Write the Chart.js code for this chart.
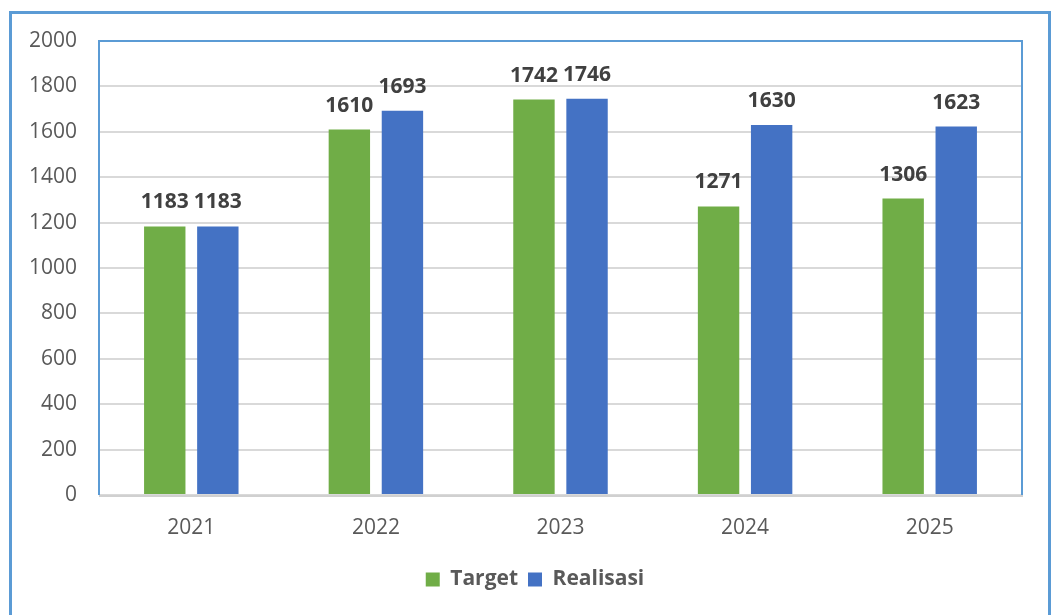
<!DOCTYPE html>
<html>
<head>
<meta charset="utf-8">
<script src="https://cdn.jsdelivr.net/npm/chart.js@4/dist/chart.umd.min.js"></script>
<style>
  body { margin: 0; background: #fff; }
  #frame { position: absolute; left: 9px; top: 11px; width: 1036px; height: 640px; border: 3px solid #5B9BD5; }
  #wrap { position: absolute; left: 0; top: 0; width: 1053px; height: 615px; }
</style>
</head>
<body>
<div id="frame"></div>
<div id="wrap"><canvas id="myChart" width="1053" height="615"></canvas></div>
<script>
'use strict'
const years = ['2021', '2022', '2023', '2024', '2025'];
const target = [1183, 1610, 1742, 1271, 1306];
const realisasi = [1183, 1693, 1746, 1630, 1623];
const yTicks = [0, 200, 400, 600, 800, 1000, 1200, 1400, 1600, 1800, 2000];

const fontName = '"Open Sans", "Liberation Sans", sans-serif';

// labels on top of each bar
const valueLabels = {
  id: 'valueLabels',
  afterDatasetsDraw(chart) {
    let ctx = chart.ctx;
    ctx.save();
    ctx.font = 'bold 21px ' + fontName;
    ctx.fillStyle = '#404040';
    ctx.textAlign = 'center';
    ctx.textBaseline = 'alphabetic';
    chart.data.datasets.forEach(function (ds, i) {
      chart.getDatasetMeta(i).data.forEach(function (bar, j) {
        ctx.fillText(ds.data[j], bar.x, bar.y - 18);
      });
    });
    ctx.restore();
  }
};

// plot area border: blue on top/left/right, gray axis at bottom
const plotBorder = {
  id: 'plotBorder',
  afterLayout(chart) {
    // legend sits a bit right of canvas centre in the original
    chart.legend.left += 24;
    chart.legend.right += 24;
  },
  beforeDatasetsDraw(chart) {
    let a = chart.chartArea;
    let ctx = chart.ctx;
    ctx.save();
    ctx.strokeStyle = '#5B9BD5';
    ctx.lineWidth = 2;
    ctx.beginPath();
    ctx.moveTo(a.left, a.bottom);
    ctx.lineTo(a.left, a.top);
    ctx.lineTo(a.right, a.top);
    ctx.lineTo(a.right, a.bottom);
    ctx.stroke();
    ctx.strokeStyle = '#D0D0D0';
    ctx.beginPath();
    ctx.moveTo(a.left, a.bottom + 1);
    ctx.lineTo(a.right + 1, a.bottom + 1);
    ctx.stroke();
    ctx.restore();
  }
};

new Chart(document.getElementById('myChart'), {
  type: 'bar',
  data: {
    labels: years,
    datasets: [
      { label: 'Target', data: target, backgroundColor: '#70AD47' },
      { label: 'Realisasi', data: realisasi, backgroundColor: '#4472C4' }
    ]
  },
  options: {
    responsive: false,
    animation: false,
    events: [],
    categoryPercentage: 0.575,
    barPercentage: 0.78,
    layout: { padding: { left: 0, right: 31, top: 41, bottom: 15 } },
    plugins: {
      tooltip: { enabled: false },
      legend: {
        position: 'bottom',
        labels: {
          boxWidth: 14,
          boxHeight: 14,
          padding: 10,
          color: '#595959',
          font: { family: fontName, size: 21, weight: 'bold' }
        }
      }
    },
    scales: {
      x: {
        grid: { display: false },
        border: { display: false },
        ticks: { color: '#595959', padding: 12, font: { family: fontName, size: 21 } },
        afterFit(scale) { scale.height = 64; }
      },
      y: {
        min: 0,
        max: 2000,
        afterBuildTicks(scale) { scale.ticks = yTicks.map(v => ({ value: v })); },
        grid: { color: '#D9D9D9', lineWidth: 2, drawTicks: false },
        border: { display: false },
        ticks: {
          color: '#595959',
          padding: 22,
          font: { family: fontName, size: 21 },
          callback: v => String(v)
        },
        afterFit(scale) { scale.width = 99; }
      }
    }
  },
  plugins: [valueLabels, plotBorder]
});
</script>
</body>
</html>
